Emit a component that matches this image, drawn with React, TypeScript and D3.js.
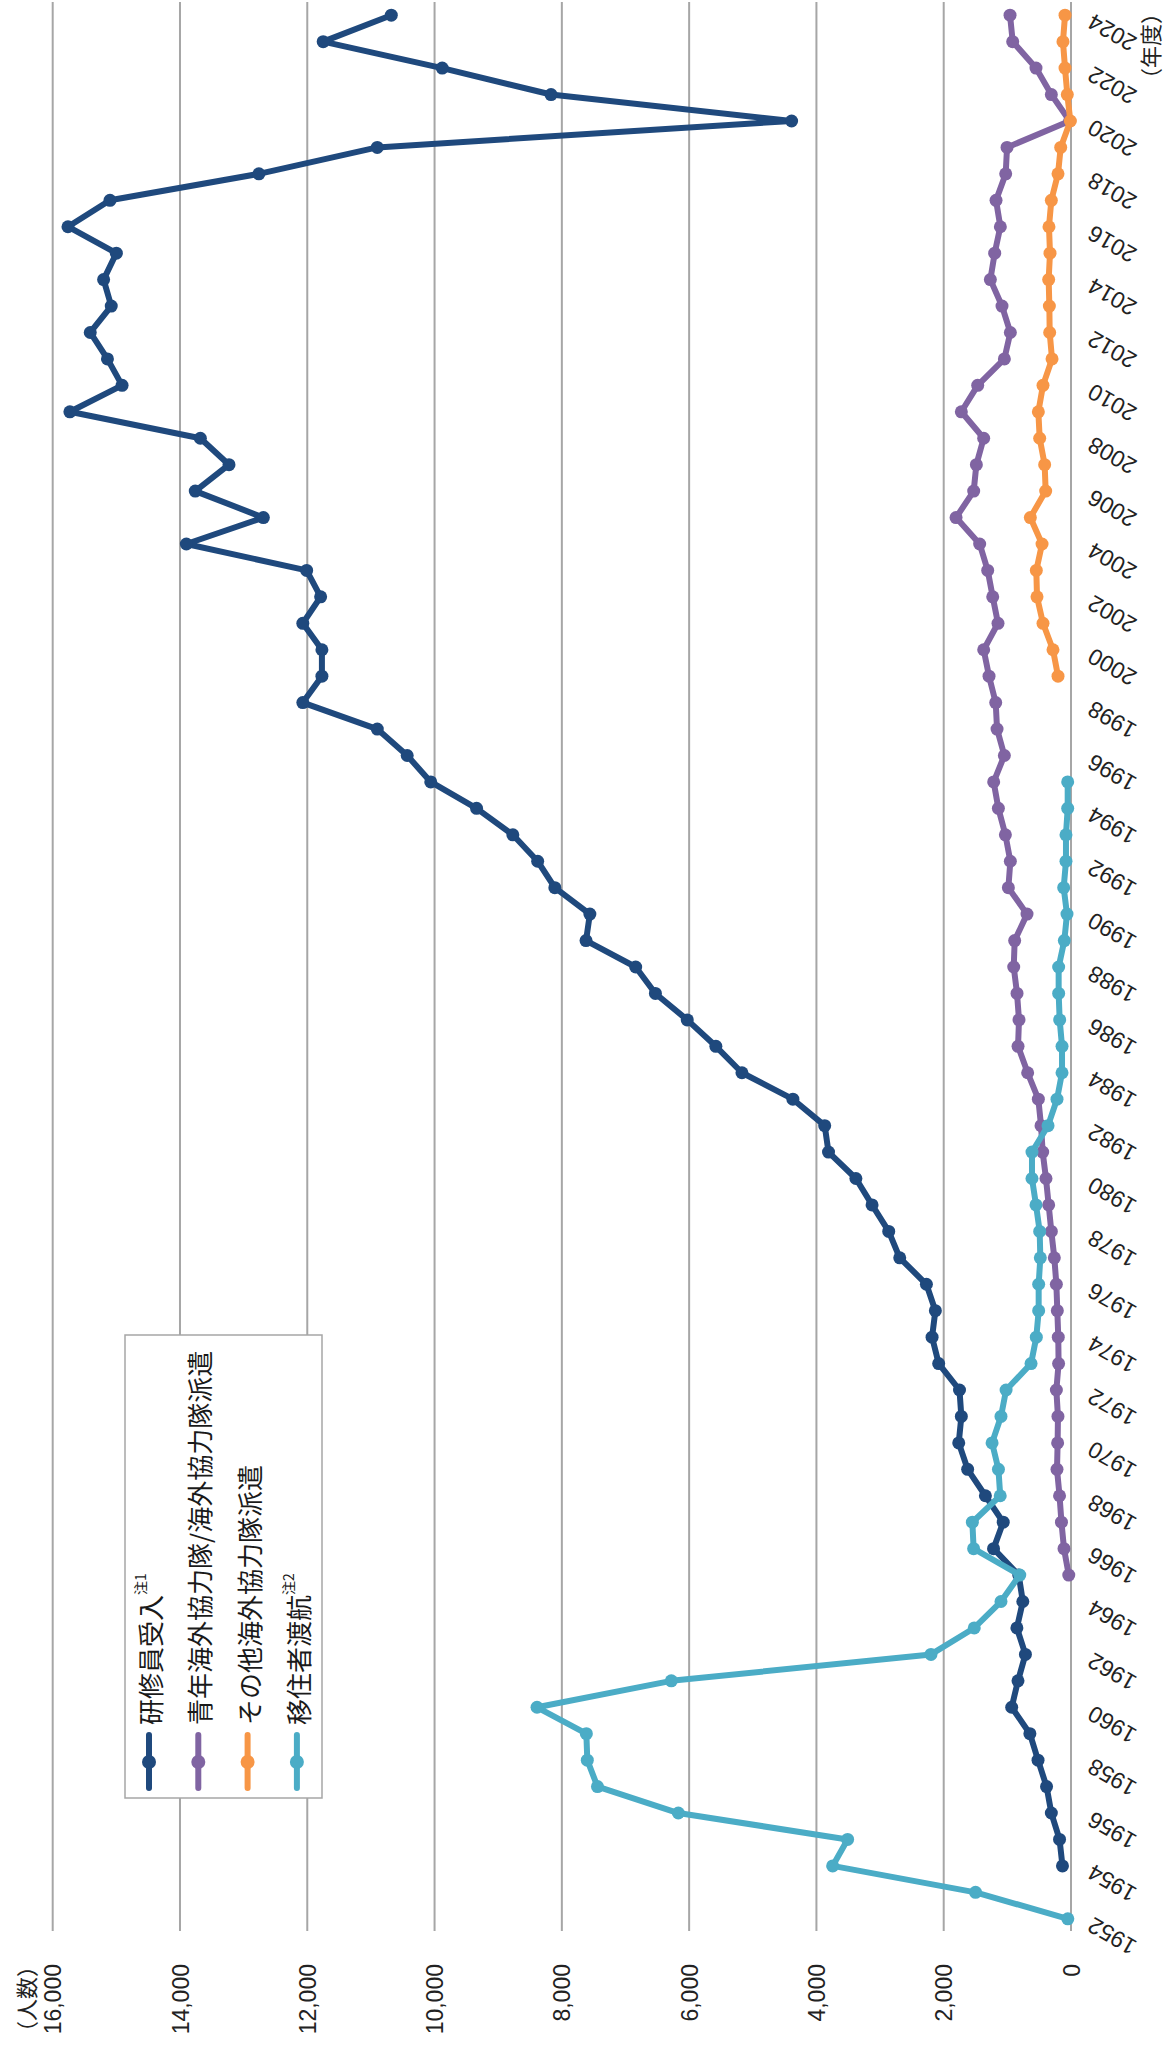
import React, { useEffect, useRef } from 'react';
import * as d3 from 'd3';

// fiscal years on the category axis
const years = d3.range(1952, 2025);
const yearTicks = years.filter(y => y % 2 === 0);
const valueTicks = [0, 2000, 4000, 6000, 8000, 10000, 12000, 14000, 16000];

// 研修員受入 1954–2024
const traineesStart = 1954;
const trainees = [
  134, 180, 309, 384, 518, 646, 932, 833, 716, 850, 757, 821, 1217, 1065, 1345, 1624,
  1764, 1723, 1752, 2079, 2183, 2131, 2272, 2691, 2864, 3126, 3380, 3810, 3870, 4370,
  5170, 5580, 6030, 6530, 6840, 7620, 7560, 8110, 8380, 8770, 9340, 10060, 10430, 10900,
  12070, 11770, 11770, 12070, 11790, 12010, 13900, 12690, 13760, 13230, 13680, 15730,
  14910, 15140, 15410, 15080, 15200, 15000, 15760, 15100, 12760, 10900, 4390, 8170,
  9880, 11750, 10680,
];

// 青年海外協力隊/海外協力隊派遣 1965–2024
const jocvStart = 1965;
const jocv = [
  35, 110, 150, 180, 220, 210, 205, 230, 195, 200, 215, 230, 262, 309, 351, 393, 445,
  471, 513, 681, 832, 817, 848, 900, 885, 691, 984, 953, 1031, 1141, 1215, 1047, 1162,
  1183, 1288, 1372, 1147, 1230, 1309, 1435, 1806, 1529, 1487, 1372, 1723, 1466, 1047,
  953, 1084, 1267, 1199, 1110, 1178, 1026, 1005, 21, 309, 550, 916, 958,
];

// その他海外協力隊派遣 1999–2024
const otherStart = 1999;
const other = [
  204, 283, 440, 534, 545, 455, 639, 398, 414, 492, 513, 440, 298, 335, 340, 351, 330,
  346, 309, 204, 162, 10, 58, 94, 126, 94,
];

// 移住者渡航 1952–1995
const emigrantsStart = 1952;
const emigrants = [
  50, 1500, 3745, 3510, 6170, 7440, 7600, 7615, 8390, 6280, 2200, 1520, 1100, 805, 1530,
  1550, 1112, 1140, 1240, 1100, 1020, 628, 545, 508, 508, 482, 492, 550, 613, 613, 361,
  220, 141, 141, 178, 194, 194, 105, 63, 115, 79, 79, 52, 52,
];

const seriesNames = ['研修員受入', '青年海外協力隊/海外協力隊派遣', 'その他海外協力隊派遣', '移住者渡航'];
const seriesNotes = ['注1', '', '', '注2'];
const colors = ['#1F497D', '#8064A2', '#F79646', '#4BACC6'];

const latin = '"Liberation Sans", "Noto Sans CJK JP", sans-serif';
const cjk = '"Noto Sans CJK JP", sans-serif';

const App: React.FC = () => {
  const ref = useRef<SVGSVGElement | null>(null);

  useEffect(() => {
    const width = 1166;
    const height = 2052;
    const top = 2;
    const bottom = 1932;
    const svg = d3.select(ref.current);
    svg.selectAll('*').remove();
    svg.attr('width', width).attr('height', height).attr('viewBox', `0 0 ${width} ${height}`);

    // chart is laid on its side: years go up, values go left
    const y = d3.scalePoint<number>().domain(years).range([bottom, top]).padding(0.5);
    const x = d3.scaleLinear().domain([0, 16000]).range([1071, 52.7]);

    svg
      .append('g')
      .selectAll('line')
      .data(valueTicks)
      .join('line')
      .attr('x1', d => x(d))
      .attr('x2', d => x(d))
      .attr('y1', top)
      .attr('y2', bottom - 1)
      .attr('stroke', '#a6a6a6')
      .attr('stroke-width', 2);

    const xAxis = svg
      .append('g')
      .attr('transform', `translate(0,${bottom - 1})`)
      .call(d3.axisBottom(x).tickValues(valueTicks).tickSize(0).tickFormat(d3.format(',')));
    xAxis.select('.domain').remove();
    xAxis
      .selectAll('text')
      .attr('transform', 'rotate(-90)')
      .attr('x', -33)
      .attr('y', 0)
      .attr('dy', '0.35em')
      .attr('text-anchor', 'end')
      .attr('font-size', 23)
      .attr('font-family', latin)
      .attr('fill', '#222');

    const yAxis = svg
      .append('g')
      .attr('transform', `translate(${x(0)},0)`)
      .call(d3.axisRight(y).tickValues(yearTicks).tickSize(0).tickFormat(d => String(d)));
    yAxis.select('.domain').remove();
    yAxis
      .selectAll('text')
      .attr('transform', 'translate(19,4) rotate(210)')
      .attr('x', 0)
      .attr('dy', '0.35em')
      .attr('text-anchor', 'end')
      .attr('font-size', 23)
      .attr('font-family', latin)
      .attr('fill', '#222');

    svg
      .append('text')
      .attr('transform', 'translate(1149,46) rotate(-90)')
      .attr('text-anchor', 'middle')
      .attr('dominant-baseline', 'central')
      .attr('font-size', 22)
      .attr('font-family', cjk)
      .attr('fill', '#222')
      .text('（年度）');

    svg
      .append('text')
      .attr('transform', 'translate(25,1999) rotate(-90)')
      .attr('text-anchor', 'middle')
      .attr('dominant-baseline', 'central')
      .attr('font-size', 22)
      .attr('font-family', cjk)
      .attr('fill', '#222')
      .text('（人数）');

    const toPoints = (start: number, vals: number[]) => vals.map((v, i) => ({ year: start + i, v }));
    const series = [
      toPoints(traineesStart, trainees),
      toPoints(jocvStart, jocv),
      toPoints(otherStart, other),
      toPoints(emigrantsStart, emigrants),
    ];

    const line = d3
      .line<{ year: number; v: number }>()
      .x(d => x(d.v))
      .y(d => y(d.year) as number);

    series.forEach((pts, i) => {
      const g = svg.append('g');
      g.append('path')
        .attr('d', line(pts))
        .attr('fill', 'none')
        .attr('stroke', colors[i])
        .attr('stroke-width', 6)
        .attr('stroke-linejoin', 'round');
      g.selectAll('circle')
        .data(pts)
        .join('circle')
        .attr('cx', d => x(d.v))
        .attr('cy', d => y(d.year) as number)
        .attr('r', 6.5)
        .attr('fill', colors[i]);
    });

    // legend, turned like the rest
    const legend = svg.append('g');
    legend
      .append('rect')
      .attr('x', 125)
      .attr('y', 1335)
      .attr('width', 197)
      .attr('height', 463)
      .attr('fill', '#fff')
      .attr('stroke', '#a6a6a6')
      .attr('stroke-width', 1.5);

    seriesNames.forEach((name, i) => {
      const cx = 149 + i * 49.3;
      legend
        .append('line')
        .attr('x1', cx)
        .attr('x2', cx)
        .attr('y1', 1735)
        .attr('y2', 1788)
        .attr('stroke', colors[i])
        .attr('stroke-width', 6)
        .attr('stroke-linecap', 'round');
      legend.append('circle').attr('cx', cx).attr('cy', 1762).attr('r', 7).attr('fill', colors[i]);
      const t = legend
        .append('text')
        .attr('transform', `translate(${cx},1725) rotate(-90)`)
        .attr('dominant-baseline', 'central')
        .attr('font-size', 26)
        .attr('font-family', cjk)
        .attr('fill', '#1a1a1a');
      t.append('tspan').text(name);
      if (seriesNotes[i]) {
        t.append('tspan').attr('font-size', 14).attr('dy', -9).text(seriesNotes[i]);
      }
    });
  }, []);

  return <svg ref={ref} style={{ position: 'absolute', left: 0, top: 0, background: '#fff' }}></svg>;
};

export default App;
